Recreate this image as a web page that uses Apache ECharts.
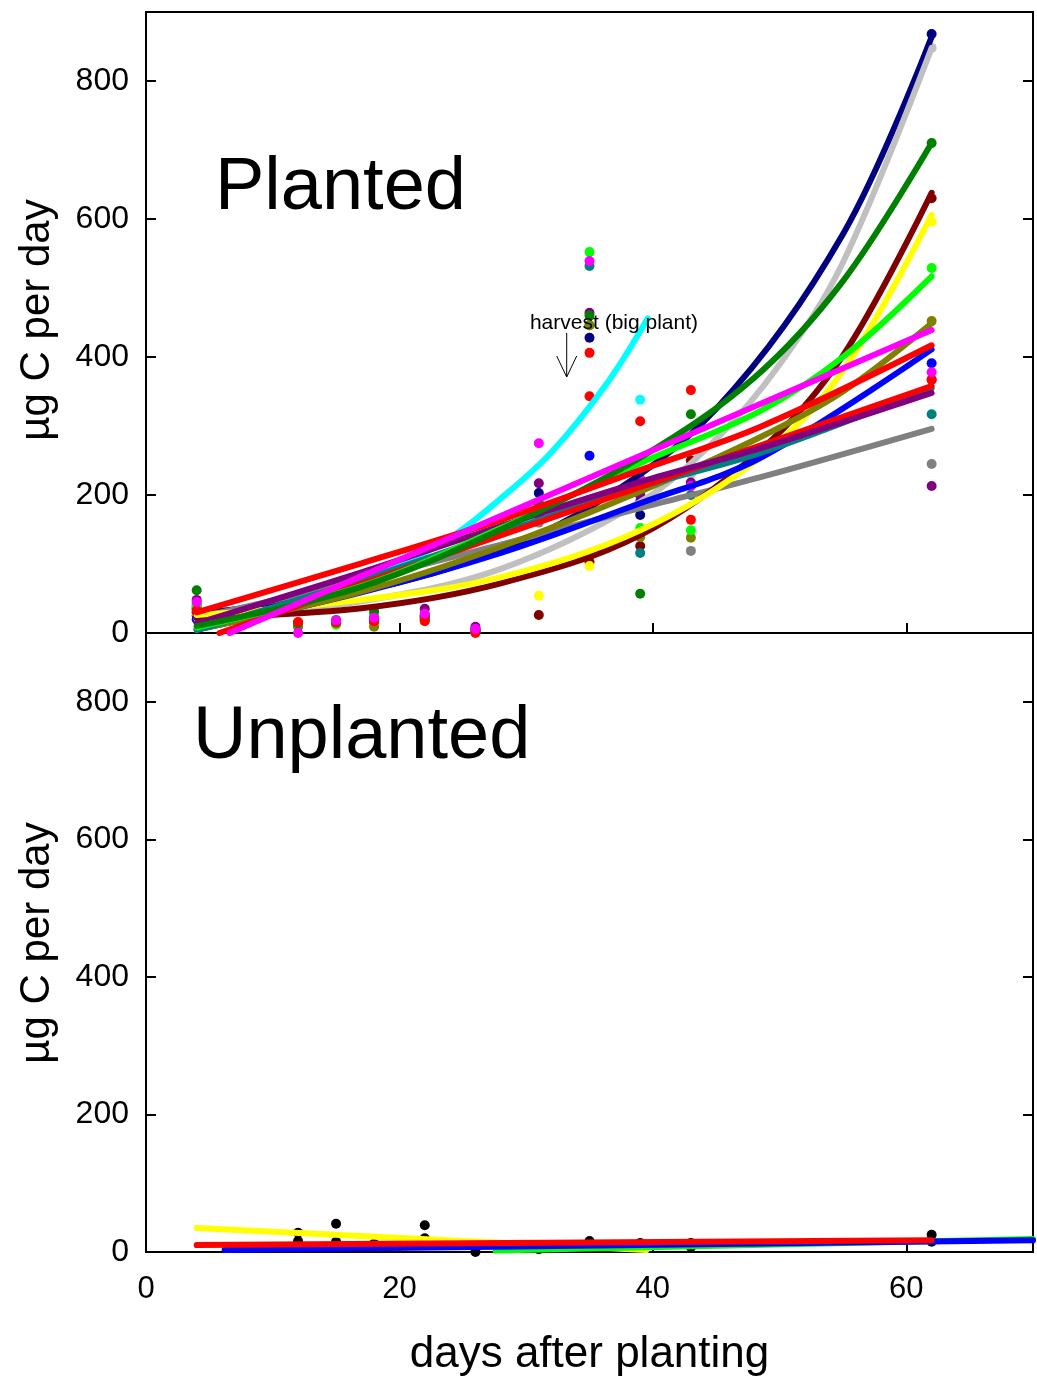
<!DOCTYPE html>
<html><head><meta charset="utf-8">
<script src="https://cdn.jsdelivr.net/npm/echarts@6/dist/echarts.min.js"></script>
<style>html,body{margin:0;padding:0;background:#fff}#c{width:1037px;height:1389px}</style>
</head><body><div id="c"></div>
<script>
// ---- data ----
const sampleDays = [4, 12, 15, 18, 22, 26, 31, 35, 39, 43, 62];
const xTickLabels = ['0', '20', '40', '60'];
const yTickLabels = ['0', '200', '400', '600', '800'];

// planted: measured points (µg C per day) at sampleDays
const navyDots    = [35, 10, 15, 20, 26, 5, 203, 428, 171, 215, 868];
const silverDots  = [42, 12, 15, 14, 22, 4, 170, 446, 200, 230, 848];
const greenDots   = [62, 14, 16, 32, 25, 3, 188, 460, 57, 317, 710];
const maroonDots  = [25, 10, 14, 12, 20, 2, 26, 103, 126, 250, 630];
const yellowDots  = [29, 11, 14, 10, 18, 2, 54, 97, 150, 200, 596];
const limeDots    = [38, 13, 12, 28, 20, 3, 185, 552, 152, 149, 529];
const oliveDots   = [30, 14, 16, 9, 24, 4, 180, 446, 139, 138, 452];
const magentaDots = [45, 0, 18, 22, 28, 6, 275, 539, 223, 213, 378];
const redDots     = [33, 16, 15, 17, 19, 0, 175, 406, 307, 352, 367];
const red2Dots    = [30, 12, 14, 19, 17, 1, 170, 343, 223, 164, 367];
const blueDots    = [20, 12, 14, 18, 22, 4, 178, 257, 190, 213, 391];
const tealDots    = [38, 13, 19, 22, 24, 5, 174, 532, 116, 200, 317];
const purpleDots  = [48, 15, 17, 24, 35, 9, 217, 464, 200, 218, 213];
const grayDots    = [42, 14, 16, 20, 25, 5, 160, 446, 199, 119, 245];
const cyanDots    = [35, 12, 15, 20, 22, 4, 190, 446, 338];

// planted: fitted curves [day, value]
const navyFit    = [[4,28],[15,55],[25,100],[35,182],[45,325],[55,578],[62,864]];
const silverFit  = [[4,20],[17,46],[28,93],[39,190],[45,281],[50,389],[55,537],[62,848]];
const greenFit   = [[4,10],[17,67],[28,150],[39,254],[48,370],[55,510],[62,710]];
const maroonFit  = [[4,22],[17,36],[28,72],[39,142],[48.5,265],[55,402],[62,638]];
const yellowFit  = [[4,26],[17,48],[28,81],[39,149],[48.5,255],[55,380],[62,606]];
const limeFit    = [[4,8],[17,68],[28,152],[39,246],[48.5,322],[55,400],[62,517]];
const oliveFit   = [[4,5],[17,60],[28,125],[39,205],[48.5,284],[55,350],[62,449]];
const magentaFit = [[6.6,0],[62,439]];
const redFit     = [[4,30],[17,101],[28,164],[39,236],[48.5,299],[62,417]];
const red2Fit    = [[5.8,0],[62,358]];
const blueFit    = [[4,5],[17,59],[28,116],[39,188],[48.5,254],[62,411]];
const tealFit    = [[4,4],[17,77],[28,145],[39,212],[48.5,261],[62,355]];
const purpleFit  = [[4,14],[17,88],[28,155],[39,219],[48.5,268],[62,348]];
const grayFit    = [[4,22],[17,77],[28,128],[39,181],[48.5,226],[62,296]];
const cyanFit    = [[4,20],[12,45],[18.5,85],[24,138],[28,195],[32,262],[36.5,365],[39.6,456]];

// unplanted
const unplantedDots = [[12,28],[12,16],[15,41],[15,15],[18,12],[22,39],[22,20],[26,0],[31,4],[35,16],[39,13],[43,13],[43,7],[62,25],[62,15]];
const yellowFitU = [[4,35],[39.5,3]];
const greenFitU  = [[27.6,2],[70,19]];
const blueFitU   = [[6.2,3],[70,17]];
const redFitU    = [[4,10],[62,17]];

const harvestNote = {text: 'harvest (big plant)', day: 30.3, value: 449, arrowDay: 33.2, arrowFrom: 435, arrowTo: 371};

// ---- chart ----
const FONT = '"Liberation Sans", Arial, Helvetica, sans-serif';
const planted = [
  ['#00ffff', cyanDots, cyanFit],
  ['#000080', navyDots, navyFit],
  ['#c0c0c0', silverDots, silverFit],
  ['#808080', grayDots, grayFit],
  ['#800000', maroonDots, maroonFit],
  ['#ffff00', yellowDots, yellowFit],
  ['#0000ff', blueDots, blueFit],
  ['#808000', oliveDots, oliveFit],
  ['#008080', tealDots, tealFit],
  ['#ff0000', red2Dots, red2Fit],
  ['#800080', purpleDots, purpleFit],
  ['#00ff00', limeDots, limeFit],
  ['#008000', greenDots, greenFit],
  ['#ff0000', redDots, redFit],
  ['#ff00ff', magentaDots, magentaFit]
];

const series = [];
planted.forEach(([col, dots]) => {
  series.push({type:'scatter', xAxisIndex:0, yAxisIndex:0, symbolSize:10, z:2,
    itemStyle:{color:col, opacity:1}, data: dots.map((v,i)=>[sampleDays[i], v]), silent:true});
});
planted.forEach(([col, , fit]) => {
  series.push({type:'line', xAxisIndex:0, yAxisIndex:0, showSymbol:false, symbol:'none', z:3,
    smooth: fit.length > 2 ? 0.35 : false,
    lineStyle:{color:col, width:6, cap:'round'}, data: fit, silent:true});
});
series.push({type:'scatter', xAxisIndex:1, yAxisIndex:2, symbolSize:10, z:2,
  itemStyle:{color:'#000', opacity:1}, data: unplantedDots, silent:true});
[['#ffff00', yellowFitU], ['#00ff00', greenFitU], ['#0000ff', blueFitU], ['#ff0000', redFitU]].forEach(([col, fit]) => {
  series.push({type:'line', xAxisIndex:1, yAxisIndex:2, showSymbol:false, symbol:'none', z:3,
    lineStyle:{color:col, width:6, cap:'round'}, data: fit, silent:true});
});

const axLine = {show:true, lineStyle:{color:'#000', width:2}};
const axTick = {show:true, inside:true, length:10, lineStyle:{color:'#000', width:2}};
function xAx(grid, labels) {
  return {type:'value', gridIndex:grid, min:0, max:70, interval:20, position:'bottom',
    axisLine:axLine, axisTick:axTick, splitLine:{show:false},
    axisLabel: labels ? {show:true, fontSize:31, color:'#000', fontFamily:FONT, margin:22, showMaxLabel:false,
      formatter: v => xTickLabels[v/20] || ''} : {show:false},
    name: labels ? 'days after planting' : '', nameLocation:'middle', nameGap:81,
    nameTextStyle:{fontSize:44, color:'#000', fontFamily:FONT}};
}
function yAx(grid, right) {
  return {type:'value', gridIndex:grid, min:0, max:900, interval:200, position: right ? 'right':'left',
    axisLine:axLine, axisTick:axTick, splitLine:{show:false},
    axisLabel: right ? {show:false} : {show:true, fontSize:32, color:'#000', fontFamily:FONT, margin:17, showMaxLabel:false,
      formatter: v => yTickLabels[v/200] || ''}};
}

const chart = echarts.init(document.getElementById('c'), null, {renderer:'canvas'});
chart.setOption({
  animation:false,
  backgroundColor:'#fff',
  grid:[
    {left:146, top:12, width:887, height:621, show:true, borderColor:'#000', borderWidth:2, backgroundColor:'transparent'},
    {left:146, top:633, width:887, height:619, show:true, borderColor:'#000', borderWidth:2, backgroundColor:'transparent'}
  ],
  xAxis:[xAx(0,false), xAx(1,true)],
  yAxis:[yAx(0,false), yAx(0,true), yAx(1,false), yAx(1,true)],
  series
});

const tp = chart.convertToPixel({gridIndex:0}, [harvestNote.day, harvestNote.value]);
const a1 = chart.convertToPixel({gridIndex:0}, [harvestNote.arrowDay, harvestNote.arrowFrom]);
const a2 = chart.convertToPixel({gridIndex:0}, [harvestNote.arrowDay, harvestNote.arrowTo]);
chart.setOption({
  graphic:[
    {type:'text', left:215, top:152, z:10, style:{text:'Planted', fontSize:74, fill:'#000', fontFamily:FONT}},
    {type:'text', left:193, top:701, z:10, style:{text:'Unplanted', fontSize:74, fill:'#000', fontFamily:FONT}},
    {type:'text', x:37, y:320, rotation:Math.PI/2, z:10, style:{text:'µg C per day', fontSize:42, fill:'#000', fontFamily:FONT, align:'center', verticalAlign:'middle'}},
    {type:'text', x:37, y:943, rotation:Math.PI/2, z:10, style:{text:'µg C per day', fontSize:42, fill:'#000', fontFamily:FONT, align:'center', verticalAlign:'middle'}},
    {type:'text', x:tp[0], y:tp[1], z:10, style:{text:harvestNote.text, fontSize:21, fill:'#000', fontFamily:FONT, align:'left', verticalAlign:'middle'}},
    {type:'polyline', z:10, shape:{points:[a1, a2]}, style:{stroke:'#000', lineWidth:1, fill:null}},
    {type:'polyline', z:10, shape:{points:[[a2[0]-10, a2[1]-21],[a2[0], a2[1]],[a2[0]+10, a2[1]-21]]}, style:{stroke:'#000', lineWidth:1, fill:null}}
  ]
});
</script>
</body></html>
